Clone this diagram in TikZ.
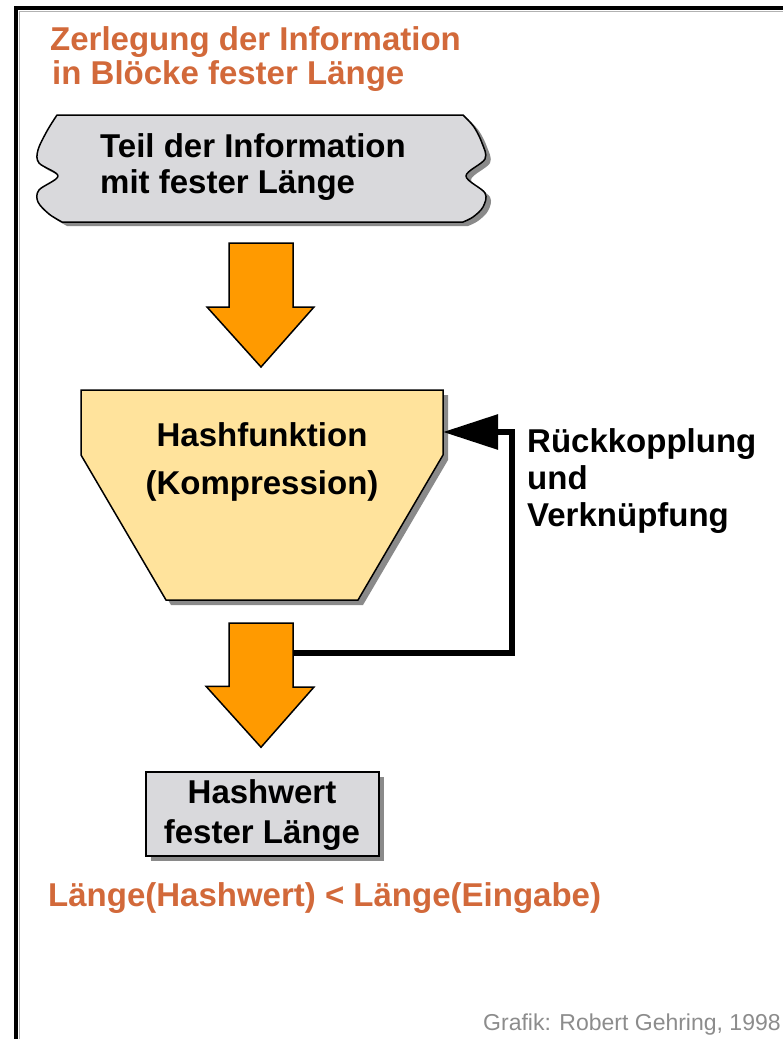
\documentclass[tikz,border=0pt]{standalone}
\usepackage{fontspec}
\setmainfont{Liberation Sans}
\usetikzlibrary{arrows.meta,calc,shadows}
\definecolor{ttlorange}{HTML}{D2693A}
\definecolor{arrorange}{HTML}{FF9A00}
\definecolor{funnelfill}{HTML}{FFE39C}
\definecolor{boxgray}{HTML}{D9D9DC}
\definecolor{shadowgray}{HTML}{8A8A8A}
\definecolor{creditgray}{HTML}{8C8C8C}
\tikzset{
  bigtxt/.style={font=\fontsize{33}{37}\selectfont\bfseries, inner sep=0pt},
  ttl/.style={bigtxt, text=ttlorange},
  blk/.style={bigtxt, text=black},
  fatarrow/.style={fill=arrorange, draw=black, line width=1.5pt, line join=miter},
}
\begin{document}
\begin{tikzpicture}[x=1pt,y=-1pt]
\useasboundingbox (0,0) rectangle (783,1039);
\fill[white] (0,0) rectangle (783,1039);
% frame (top and left)
\draw[line width=1pt, gray!60] (19,11.5) -- (783,11.5);
\draw[line width=1pt, gray!60] (19.5,11) -- (19.5,1039);
\draw[line width=4pt] (14,8) -- (783,8);
\draw[line width=4pt] (16,6) -- (16,1039);

% title
\node[ttl, anchor=base west] (title1) at (50,50) {Zerlegung der Information};
\node[ttl, anchor=base west] (title2) at (52,84) {in Blöcke fester Länge};

% wavy block
\def\wavyoutline{(57,115) -- (463,115) -- plot[smooth, tension=0.55] coordinates {(463,115) (474,127) (482,143) (485,159) (466,176) (485,193) (483,207) (473,217) (463,222)} -- (62,222) -- plot[smooth, tension=0.55] coordinates {(62,222) (49,214) (38,202) (39,190) (58,176) (39,163) (38,150) (47,131) (57,115)} -- cycle}
\begin{scope}[shift={(5,4)}]
\fill[shadowgray] \wavyoutline;
\end{scope}
\draw[fill=boxgray, line width=1.5pt, line join=round] \wavyoutline;
\node[blk, anchor=base west] (teil1) at (100,157) {Teil der Information};
\node[blk, anchor=base west] (teil2) at (100,193) {mit fester Länge};
\coordinate (teilS) at (261,222);

% funnel (hash function)
\def\funneloutline{(81,390) -- (443,390) -- (443,455) -- (358,600) -- (166,600) -- (81,455) -- cycle}
\begin{scope}[shift={(5,5)}]
\fill[shadowgray] \funneloutline;
\end{scope}
\draw[fill=funnelfill, line width=1.5pt, line join=miter] \funneloutline;
\node[blk, anchor=base] (hf1) at (262,446) {Hashfunktion};
\node[blk, anchor=base] (hf2) at (262,494) {(Kompression)};
\coordinate (funnelN) at (261,390);
\coordinate (funnelS) at (261,600);
\coordinate (funnelE) at (443,432);

% arrow 1: block -> funnel
\draw[fatarrow] ($(teilS)+(-32,21)$) -- ++(64,0) -- ++(0,64) -- ++(21,0) -- ($(funnelN)+(0,-23)$) -- ++(-54,-60) -- ++(22,0) -- cycle;

% hash value box
\node[draw, line width=1.5pt, fill=boxgray, minimum width=233pt, minimum height=84pt, inner sep=0pt,
      drop shadow={shadow xshift=5pt, shadow yshift=-5pt, fill=shadowgray, opacity=1}] (hw) at (262.5,814) {};
\node[blk, anchor=base] (hw1) at (262,803) {Hashwert};
\node[blk, anchor=base] (hw2) at (262,843) {fester Länge};

% arrow 2: funnel -> hash value
\draw[fatarrow] ($(funnelS)+(-32,23)$) -- ++(64,0) -- ++(0,64) -- ++(21,0) -- ($(hw.north)+(-1.5,-24)$) -- ++(-55,-61) -- ++(23,0) -- cycle;
\coordinate (fbstart) at ($(funnelS)+(32,53)$);

% feedback
\draw[line width=6pt, line join=miter, -{Triangle[length=55pt,width=34pt]}] (fbstart) -- (512,653) -- (512,432) -- (funnelE);
\node[blk, anchor=base west] (fb1) at (527,452) {Rückkopplung};
\node[blk, anchor=base west] (fb2) at (527,489) {und};
\node[blk, anchor=base west] (fb3) at (527,526) {Verknüpfung};

% bottom relation
\node[ttl, anchor=base west] (rel) at (48,906) {Länge(Hashwert) < Länge(Eingabe)};

% credit
\node[font=\fontsize{23}{25}\selectfont, text=creditgray, anchor=base west, inner sep=0pt] (credit) at (483,1030) {Grafik: Robert Gehring, 1998};
\end{tikzpicture}
\end{document}
